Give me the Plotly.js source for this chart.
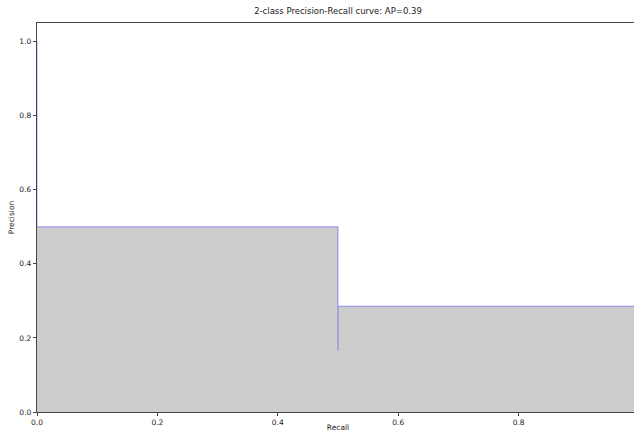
<!DOCTYPE html>
<html>
<head>
<meta charset="utf-8">
<script src="https://cdn.plot.ly/plotly-3.0.1.min.js"></script>
<style>html,body{margin:0;padding:0;background:#fff;overflow:hidden;}#chart{width:640px;height:432px;}</style>
</head>
<body>
<div id="chart"></div>
<script>
// Precision-recall curve values (sklearn order: decreasing recall)
const recall = [1.0, 0.5, 0.5, 0.0];
const precision = [0.2857, 0.1667, 0.5, 1.0];
const xTickVals = [0, 0.2, 0.4, 0.6, 0.8, 1.0];
const xTickText = ['0.0', '0.2', '0.4', '0.6', '0.8', '1.0'];
const yTickVals = [0, 0.2, 0.4, 0.6, 0.8, 1.0];
const yTickText = ['0.0', '0.2', '0.4', '0.6', '0.8', '1.0'];
const titleText = '2-class Precision-Recall curve: AP=0.39';

const font = {family: 'DejaVu Sans, sans-serif', color: '#222'};

const traces = [
  {
    x: recall, y: precision, type: 'scatter', mode: 'lines',
    line: {shape: 'hv', width: 0, color: 'rgba(0,0,0,0)'},
    fill: 'tozeroy', fillcolor: 'rgba(0,0,0,0.2)',
    hoverinfo: 'skip', showlegend: false
  },
  {
    x: recall, y: precision, type: 'scatter', mode: 'lines',
    line: {shape: 'hv', width: 1.5, color: 'rgba(0,0,255,0.25)'},
    showlegend: false
  }
];

const axisCommon = {
  showgrid: false, zeroline: false, showline: true, mirror: true,
  linecolor: '#444', linewidth: 1.2,
  ticks: 'outside', ticklen: 3, tickwidth: 1, tickcolor: '#444',
  ticklabeloverflow: 'allow',
  tickfont: {family: font.family, size: 7.5, color: '#222'}
};

const layout = {
  width: 640, height: 432,
  margin: {l: 37, r: 1, t: 23, b: 20},
  paper_bgcolor: '#fff', plot_bgcolor: '#fff',
  font: font,
  title: {text: titleText, font: {family: font.family, size: 8.5, color: '#222'}, x: 0.5, xanchor: 'center', y: 0.975, yanchor: 'middle', xref: 'paper'},
  xaxis: Object.assign({}, axisCommon, {
    range: [0, 1], tickvals: xTickVals, ticktext: xTickText,
    title: {text: 'Recall', font: {family: font.family, size: 7.5, color: '#222'}, standoff: 9}
  }),
  yaxis: Object.assign({}, axisCommon, {
    range: [0, 1.05], tickvals: yTickVals, ticktext: yTickText,
    title: {text: 'Precision', font: {family: font.family, size: 7.5, color: '#222'}, standoff: 3}
  })
};

Plotly.newPlot('chart', traces, layout, {staticPlot: true, displayModeBar: false});
</script>
</body>
</html>
